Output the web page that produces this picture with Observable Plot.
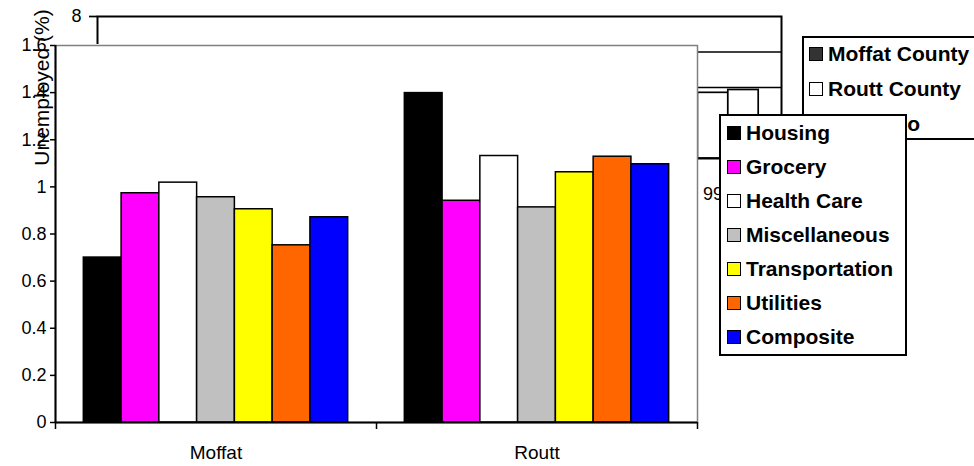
<!DOCTYPE html>
<html><head><meta charset="utf-8">
<script src="https://cdn.jsdelivr.net/npm/d3@7"></script>
<script src="https://cdn.jsdelivr.net/npm/@observablehq/plot@0.6"></script>
<style>
html,body{margin:0;padding:0;background:#fff;overflow:hidden;}
#wrap{position:relative;width:974px;height:466px;overflow:hidden;font-family:"Liberation Sans",Arial,sans-serif;color:#000;}
#wrap svg{position:absolute;max-width:none;}
.legend{position:absolute;background:#fff;border:2px solid #000;box-sizing:border-box;font-weight:bold;font-size:21px;overflow:hidden;}
.row{display:flex;align-items:center;white-space:nowrap;}
.sw{width:14px;height:14px;box-sizing:border-box;border:1.5px solid #000;margin-right:5px;flex:none;}
</style></head><body><div id="wrap"></div>
<script>
// ---- front chart data ----
const counties = ["Moffat", "Routt"];
const categories = ["Housing", "Grocery", "Health Care", "Miscellaneous", "Transportation", "Utilities", "Composite"];
const categoryColors = ["#000000", "#FF00FF", "#FFFFFF", "#C0C0C0", "#FFFF00", "#FF6600", "#0000FF"];
const moffatValues = [0.70, 0.973, 1.018, 0.956, 0.905, 0.752, 0.871];
const routtValues = [1.398, 0.941, 1.131, 0.913, 1.062, 1.128, 1.096];
const yTicks = [0, 0.2, 0.4, 0.6, 0.8, 1, 1.2, 1.4, 1.6];

// ---- background (overlapped) chart data ----
const bgYears = ["95", "96", "97", "98", "99"];
const bgSeries = ["Moffat County", "Routt County", "Colorado"];
const bgSeriesColors = ["#333333", "#FFFFFF", "#FFFFFF"];
const bgBarYear = ["99", "99"];
const bgBarSeries = ["Routt County", "Colorado"];
const bgBarValue = [5.85, 5.93];
const bgYTicks = [4, 5, 6, 7, 8];
const bgTitle = "Unemployed (%)";

const FONT = '"Liberation Sans", Arial, sans-serif';
const wrap = document.getElementById("wrap");

// Excel-like clustered layout: gap width 150% => 0.75 bar padding each side
const GROUP = categories.length + 1.5;
const frontRows = counties.flatMap((c, ci) => categories.map((cat, k) => ({
  county: c, category: cat, value: (ci === 0 ? moffatValues : routtValues)[k],
  slot: ci * GROUP + 0.75 + k
})));

const BG_GROUP = bgSeries.length + 1.5;
const bgRows = bgBarValue.map((v, i) => ({
  year: bgBarYear[i], series: bgBarSeries[i], value: v,
  slot: bgYears.indexOf(bgBarYear[i]) * BG_GROUP + 0.75 + bgSeries.indexOf(bgBarSeries[i])
}));

const bgBase = {
  width: 974, height: 466, marginLeft: 97, marginRight: 193, marginTop: 16, marginBottom: 308,
  x: {domain: [0, bgYears.length * BG_GROUP], axis: null},
  y: {domain: [bgYTicks[0], bgYTicks[bgYTicks.length - 1]]},
  color: {domain: bgSeries, range: bgSeriesColors},
  style: {background: "transparent", fontFamily: FONT, fontSize: "18px", color: "#000", overflow: "visible"}
};

const back = Plot.plot({
  ...bgBase,
  marks: [
    Plot.gridY({ticks: bgYTicks.slice(1, -1), stroke: "#000", strokeOpacity: 1, strokeWidth: 1.7}),
    Plot.rectY(bgRows, {x1: "slot", x2: d => d.slot + 1, y1: bgYTicks[0], y2: "value", fill: "series", stroke: "#000", strokeWidth: 1.7}),
    Plot.frame({stroke: "#000", strokeWidth: 2}),
    Plot.axisY({ticks: bgYTicks, tickSize: 8, tickPadding: 8, tickFormat: d => String(d), label: null, strokeWidth: 1.7}),
    Plot.axisX({ticks: bgYears.map((y, i) => i * BG_GROUP + BG_GROUP / 2), tickSize: 0, tickPadding: 29,
      tickFormat: d => bgYears[Math.round((d - BG_GROUP / 2) / BG_GROUP)], label: null})
  ]
});
back.style.left = "0px"; back.style.top = "0px";
wrap.appendChild(back);

// background legend
const bgLegend = document.createElement("div");
bgLegend.className = "legend";
Object.assign(bgLegend.style, {left: "802px", top: "36px", width: "240px", height: "104px", paddingLeft: "5px"});
bgSeries.forEach((s, i) => {
  const r = document.createElement("div");
  r.className = "row"; r.style.height = "35px"; r.style.position = "relative"; r.style.top = "-2px";
  r.innerHTML = `<span class="sw" style="background:${bgSeriesColors[i]}"></span><span>${s}</span>`;
  bgLegend.appendChild(r);
});
wrap.appendChild(bgLegend);

// front chart
const front = Plot.plot({
  width: 698, height: 422, marginLeft: 55, marginRight: 1, marginTop: 1, marginBottom: 44,
  x: {domain: [0, counties.length * GROUP]},
  y: {domain: [yTicks[0], yTicks[yTicks.length - 1]]},
  color: {domain: categories, range: categoryColors},
  style: {background: "#fff", fontFamily: FONT, fontSize: "18px", color: "#000", overflow: "visible"},
  marks: [
    Plot.frame({stroke: "#808080", strokeWidth: 1.5}),
    Plot.rectY(frontRows, {x1: "slot", x2: d => d.slot + 1, y1: 0, y2: "value", fill: "category", stroke: "#000", strokeWidth: 1.5}),
    Plot.ruleY([0], {stroke: "#000", strokeWidth: 2}),
    Plot.ruleX([0], {stroke: "#000", strokeWidth: 2}),
    Plot.axisY({ticks: yTicks, tickFormat: d => String(d), tickSize: 5, tickPadding: 4, label: null, strokeWidth: 1.5}),
    Plot.axisX({ticks: d3.range(counties.length + 1).map(i => i * GROUP), tickSize: 7, tickFormat: () => "", label: null, strokeWidth: 1.5}),
    Plot.axisX({ticks: counties.map((c, i) => i * GROUP + GROUP / 2), tickSize: 0, tickPadding: 23,
      tickFormat: d => counties[Math.round((d - GROUP / 2) / GROUP)], label: null, fontSize: 19})
  ]
});
front.style.left = "0px"; front.style.top = "44px";
wrap.appendChild(front);

// front legend
const legend = document.createElement("div");
legend.className = "legend";
Object.assign(legend.style, {left: "719px", top: "114px", width: "188px", height: "242px", paddingLeft: "6px"});
categories.forEach((c, i) => {
  const r = document.createElement("div");
  r.className = "row"; r.style.height = "34px";
  r.innerHTML = `<span class="sw" style="background:${categoryColors[i]}"></span><span>${c}</span>`;
  legend.appendChild(r);
});
wrap.appendChild(legend);

// background chart's axis title, drawn on top (as in the reference)
const titleLayer = Plot.plot({
  ...bgBase,
  marks: [
    Plot.axisY({ticks: [bgYTicks[bgYTicks.length - 1]], tickSize: 0, tickFormat: () => "", label: bgTitle,
      labelAnchor: "center", labelOffset: 63, labelArrow: "none", fontSize: 21})
  ]
});
titleLayer.style.left = "0px"; titleLayer.style.top = "0px"; titleLayer.style.pointerEvents = "none";
wrap.appendChild(titleLayer);
</script></body></html>
